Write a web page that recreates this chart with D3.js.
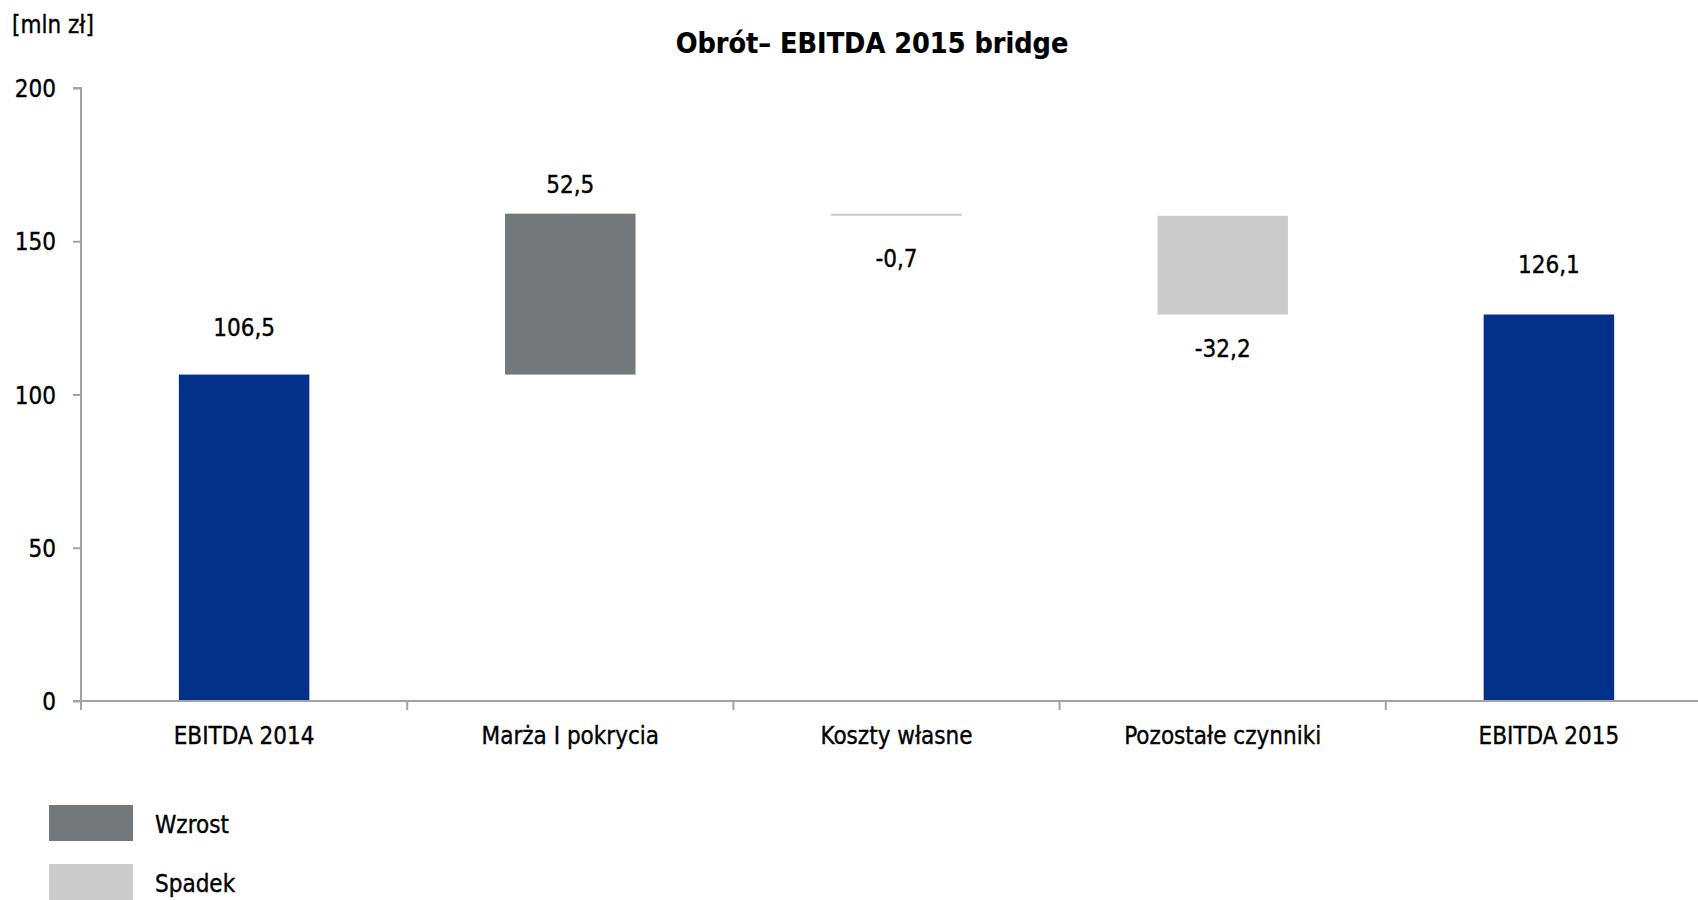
<!DOCTYPE html>
<html><head><meta charset="utf-8">
<script src="https://cdn.jsdelivr.net/npm/d3@7"></script>
<style>
html,body{margin:0;padding:0;background:#fff;overflow:hidden}
svg{display:block}
text{font-family:"DejaVu Sans Condensed","Liberation Sans Narrow","Roboto",sans-serif;fill:#000;stroke:#000;stroke-width:0.35px}
</style></head>
<body>
<svg id="c" width="1698" height="900"></svg>
<script>
// ---- data ----
const categories = ["EBITDA 2014", "Marża I pokrycia", "Koszty własne", "Pozostałe czynniki", "EBITDA 2015"];
const values = [106.5, 52.5, -0.7, -32.2, 126.1];
const kinds = ["total", "delta", "delta", "delta", "total"];
const valueLabels = ["106,5", "52,5", "-0,7", "-32,2", "126,1"];
const yTicks = [0, 50, 100, 150, 200];
const legendItems = ["Wzrost", "Spadek"];

// ---- layout ----
const W = 1698, H = 900;
const axisX = 81, y0px = 701, y200px = 88;
const step = 326.2;
const FS = 24;
const colors = {total: "#03318A", up: "#75787B", down: "#CACBCA", axis: "#A3A3A3"};
// label centre offset from bar edge (px)
const labelGap = [47, 29, 43, 34, 50];

const svg = d3.select("#c");
const x = d3.scaleBand().domain(categories).range([axisX, axisX + step * categories.length]).paddingInner(0.6).paddingOuter(0.3);
const y = d3.scaleLinear().domain([0, 200]).range([y0px, y200px]);

let run = 0;
const segs = values.map((v, i) => {
  let lo, hi, fill;
  if (kinds[i] === "total") { lo = 0; hi = v; run = v; fill = colors.total; }
  else { const s = run; run = run + v; lo = Math.min(s, run); hi = Math.max(s, run); fill = v >= 0 ? colors.up : colors.down; }
  return {cat: categories[i], v, lo, hi, fill, i};
});

svg.append("g").selectAll("rect").data(segs).join("rect")
  .attr("x", d => x(d.cat)).attr("width", x.bandwidth())
  .attr("y", d => y(d.hi)).attr("height", d => Math.max(1, y(d.lo) - y(d.hi)))
  .attr("fill", d => d.fill);

svg.append("g").selectAll("text").data(segs).join("text")
  .attr("x", d => x(d.cat) + x.bandwidth() / 2)
  .attr("y", d => (d.v >= 0 ? y(d.hi) - labelGap[d.i] : y(d.lo) + labelGap[d.i]))
  .attr("dy", "0.36em")
  .attr("text-anchor", "middle").attr("font-size", FS)
  .text((d, i) => valueLabels[i]);

// y axis
const yAxis = svg.append("g").attr("transform", `translate(${axisX},0)`)
  .call(d3.axisLeft(y).tickValues(yTicks).tickSize(8).tickPadding(17).tickFormat(d3.format("d")));
yAxis.select(".domain").attr("stroke", colors.axis).attr("stroke-width", 2).attr("d", `M-8,${y(200)}H0V${y(0)}`);
yAxis.selectAll(".tick line").attr("stroke", colors.axis).attr("stroke-width", 2);
yAxis.selectAll(".tick text").attr("font-size", FS).attr("font-family", null).attr("fill", "#000").attr("dy", "0.36em");

// x axis
const xAxisG = svg.append("g").attr("transform", `translate(0,${y0px})`);
xAxisG.append("line").attr("x1", axisX - 8).attr("x2", W).attr("y1", 0).attr("y2", 0)
  .attr("stroke", colors.axis).attr("stroke-width", 2);
xAxisG.selectAll("line.tk").data(d3.range(categories.length + 1)).join("line").attr("class", "tk")
  .attr("x1", i => x.range()[0] + i * x.step()).attr("x2", i => x.range()[0] + i * x.step())
  .attr("y1", 0).attr("y2", 9).attr("stroke", colors.axis).attr("stroke-width", 2);
xAxisG.selectAll("text").data(categories).join("text")
  .attr("x", d => x(d) + x.bandwidth() / 2).attr("y", 34).attr("dy", "0.36em")
  .attr("text-anchor", "middle").attr("font-size", FS).text(d => d);

// title & unit
svg.append("text").attr("x", 872).attr("y", 43).attr("dy", "0.36em").attr("text-anchor", "middle")
  .attr("font-size", 28.5).attr("font-weight", "bold").style("stroke-width", "0.2px").text("Obrót– EBITDA 2015 bridge");
svg.append("text").attr("x", 12).attr("y", 24).attr("dy", "0.36em").attr("font-size", FS).text("[mln zł]");

// legend
const leg = svg.append("g").selectAll("g").data(legendItems).join("g")
  .attr("transform", (d, i) => `translate(49,${805 + i * 59})`);
leg.append("rect").attr("width", 84).attr("height", 36).attr("fill", (d, i) => i === 0 ? colors.up : colors.down);
leg.append("text").attr("x", 106).attr("y", 19).attr("dy", "0.36em").attr("font-size", FS).text(d => d);
</script>
</body></html>
